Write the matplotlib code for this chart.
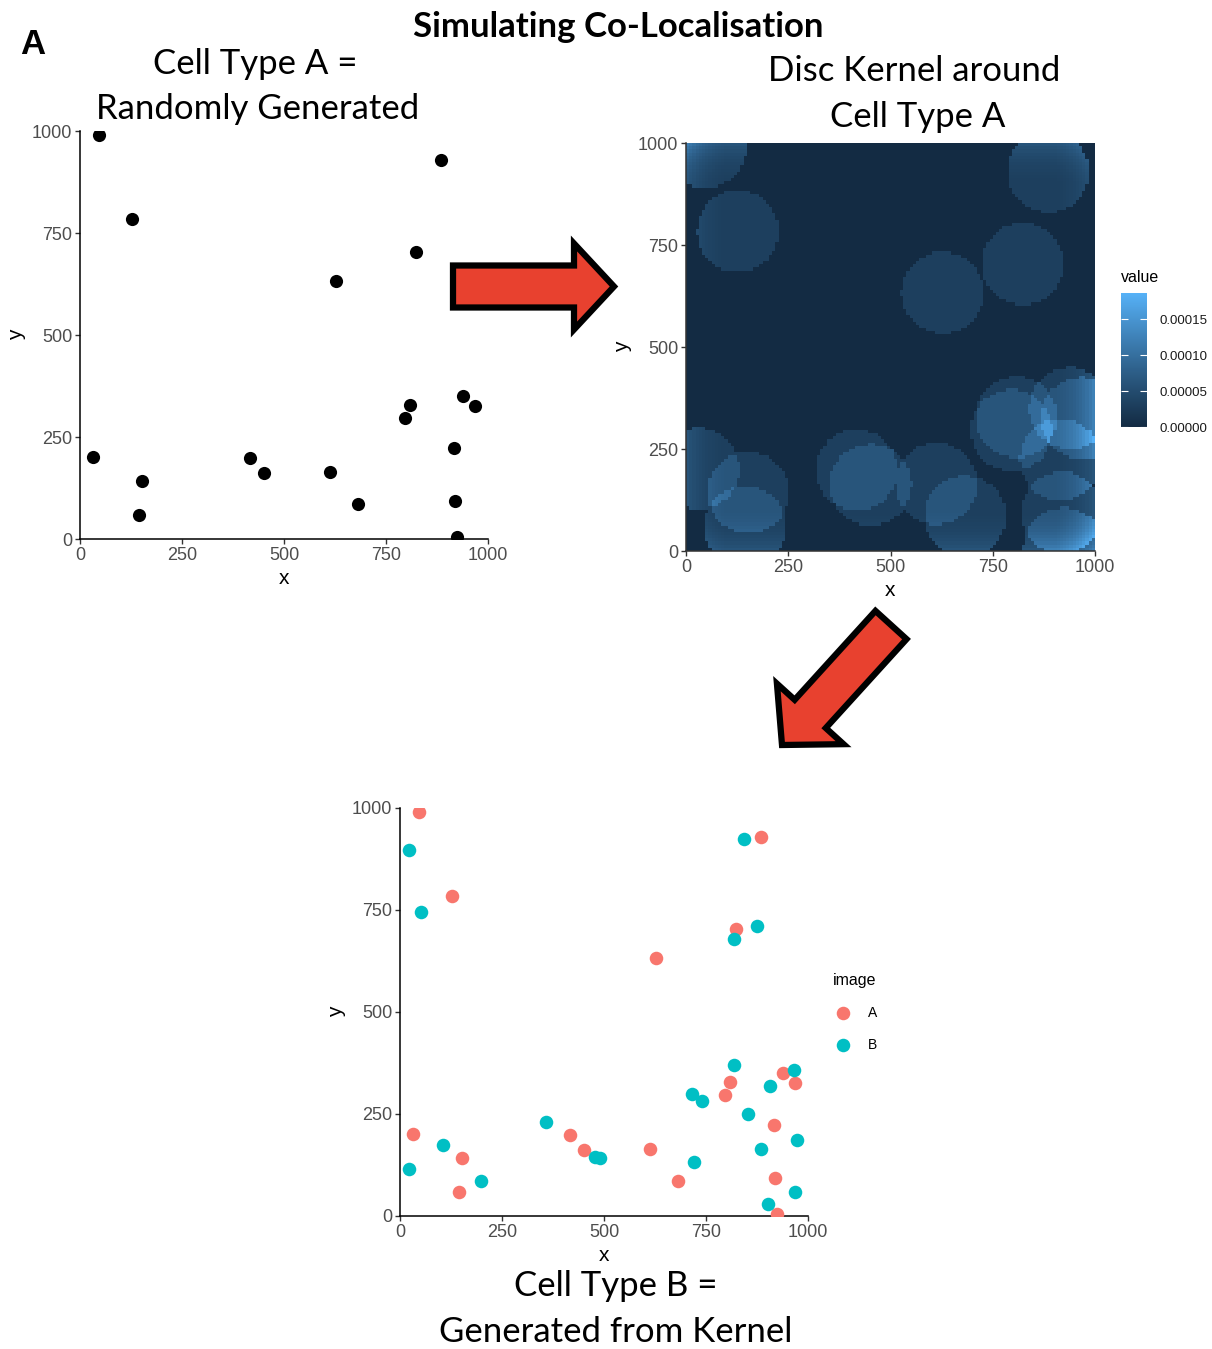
import numpy as np
import matplotlib
matplotlib.use("Agg")
import matplotlib.pyplot as plt
import matplotlib.colors as mcolors
from matplotlib.patches import FancyArrow

# ---- point patterns -------------------------------------------------------
cell_a_x = [47, 127, 886, 823, 627, 808, 796, 939, 967, 916, 919, 924,
            31, 152, 144, 417, 451, 612, 682]
cell_a_y = [989, 784, 930, 704, 633, 328, 296, 350, 326, 224, 94, 6,
            202, 143, 60, 198, 162, 165, 85]

cell_b_x = [21, 51, 843, 876, 819, 819, 965, 906, 716, 739, 852, 359,
            972, 885, 105, 21, 198, 479, 491, 720, 969, 901]
cell_b_y = [898, 745, 923, 712, 678, 369, 358, 318, 298, 281, 251, 231,
            187, 165, 173, 114, 86, 144, 143, 133, 60, 30]

axis_ticks = [0, 250, 500, 750, 1000]
value_ticks = [0.0, 0.00005, 0.00010, 0.00015]
group_labels = ["A", "B"]

DISC_RADIUS = 100.0
GRID_N = 128
WINDOW = 1000.0

# ---- figure ---------------------------------------------------------------
W, H = 1212, 1349
fig = plt.figure(figsize=(W / 100, H / 100), dpi=100)
plt.rcParams["font.family"] = ["Liberation Sans", "DejaVu Sans"]

TICK_GREY = "#4D4D4D"
COL_A = "#F8766D"
COL_B = "#00BFC4"


def px_axes(left, top, right, bottom):
    return fig.add_axes([left / W, 1 - bottom / H, (right - left) / W, (bottom - top) / H])


def style_axes(ax, spine_color="black"):
    ax.set_xlim(0, 1000)
    ax.set_ylim(0, 1000)
    ax.set_xticks(axis_ticks)
    ax.set_yticks(axis_ticks)
    for s in ("top", "right"):
        ax.spines[s].set_visible(False)
    for s in ("left", "bottom"):
        ax.spines[s].set_color(spine_color)
        ax.spines[s].set_linewidth(1.1)
    ax.tick_params(length=3.5, width=1.0, pad=2, labelsize=13,
                   labelcolor=TICK_GREY, color="#333333")
    ax.set_xlabel("x", fontsize=15, labelpad=4)
    ax.set_ylabel("y", fontsize=15, labelpad=4)


# ---- panel 1: cell type A ---------------------------------------------------
ax1 = px_axes(80, 131, 488, 539)
ax1.scatter(cell_a_x, cell_a_y, s=90, color="black", linewidths=0, zorder=3)
style_axes(ax1)

# ---- panel 2: edge-corrected disc kernel around cell type A ----------------
centres = (np.arange(GRID_N) + 0.5) * WINDOW / GRID_N
gx, gy = np.meshgrid(centres, centres)
ax_pts = np.array(cell_a_x, float)
ay_pts = np.array(cell_a_y, float)
d2 = (gx[..., None] - ax_pts) ** 2 + (gy[..., None] - ay_pts) ** 2
count = (d2 <= DISC_RADIUS ** 2).sum(axis=-1)

step = 4.0
off = np.arange(-DISC_RADIUS, DISC_RADIUS + step, step)
ox, oy = np.meshgrid(off, off)
inside_disc = ox ** 2 + oy ** 2 <= DISC_RADIUS ** 2
ox, oy = ox[inside_disc], oy[inside_disc]
cell_area = step * step
area = np.empty_like(gx)
for i in range(GRID_N):
    px = gx[i][:, None] + ox
    py = gy[i][:, None] + oy
    inw = (px >= 0) & (px <= WINDOW) & (py >= 0) & (py <= WINDOW)
    area[i] = inw.sum(axis=1) * cell_area
density = count / area


def hex_to_lab(h):
    rgb = np.array(mcolors.to_rgb(h))
    lin = np.where(rgb <= 0.04045, rgb / 12.92, ((rgb + 0.055) / 1.055) ** 2.4)
    M = np.array([[0.4124564, 0.3575761, 0.1804375],
                  [0.2126729, 0.7151522, 0.0721750],
                  [0.0193339, 0.1191920, 0.9503041]])
    xyz = M @ lin / np.array([0.95047, 1.0, 1.08883])
    f = np.where(xyz > 0.008856, np.cbrt(xyz), 7.787 * xyz + 16 / 116)
    return np.array([116 * f[1] - 16, 500 * (f[0] - f[1]), 200 * (f[1] - f[2])])


def lab_to_rgb(lab):
    L, a, b = lab
    fy = (L + 16) / 116
    f = np.array([fy + a / 500, fy, fy - b / 200])
    xyz = np.where(f ** 3 > 0.008856, f ** 3, (f - 16 / 116) / 7.787)
    xyz = xyz * np.array([0.95047, 1.0, 1.08883])
    Minv = np.array([[3.2404542, -1.5371385, -0.4985314],
                     [-0.9692660, 1.8760108, 0.0415560],
                     [0.0556434, -0.2040259, 1.0572252]])
    lin = Minv @ xyz
    rgb = np.where(lin <= 0.0031308, 12.92 * lin, 1.055 * np.abs(lin) ** (1 / 2.4) - 0.055)
    return np.clip(rgb, 0, 1)


lo, hi = hex_to_lab("#132B43"), hex_to_lab("#56B1F7")
cmap = mcolors.ListedColormap([lab_to_rgb(lo + t * (hi - lo)) for t in np.linspace(0, 1, 256)])

ax2 = px_axes(686, 143, 1095, 551)
im = ax2.imshow(density, origin="lower", extent=(0, 1000, 0, 1000), cmap=cmap,
                interpolation="nearest", aspect="auto",
                vmin=density.min(), vmax=density.max())
style_axes(ax2, spine_color="#333333")

cax = px_axes(1121, 293, 1147, 427)
cb = fig.colorbar(im, cax=cax, ticks=value_ticks)
cb.outline.set_visible(False)
cb.ax.set_yticklabels([f"{v:.5f}" for v in value_ticks])
cax.tick_params(direction="in", color="white", length=5, width=0.8,
                left=True, right=True, labelsize=9.5, pad=9, labelcolor="#1a1a1a")
fig.text(1121 / W, 1 - 277 / H, "value", fontsize=11.5, va="center", ha="left")

# ---- panel 3: cell types A and B ------------------------------------------
ax3 = px_axes(400, 808, 808, 1216)
ax3.scatter(cell_a_x, cell_a_y, s=95, color=COL_A, linewidths=0, zorder=3, label=group_labels[0])
ax3.scatter(cell_b_x, cell_b_y, s=95, color=COL_B, linewidths=0, zorder=3, label=group_labels[1])
style_axes(ax3)
leg = ax3.legend(title="image", loc="upper left",
                 bbox_to_anchor=(833 / W, 1 - 973 / H), bbox_transform=fig.transFigure,
                 frameon=False, borderaxespad=0, borderpad=0, fontsize=10,
                 title_fontsize=11.5, labelspacing=1.3, handletextpad=1.0,
                 markerscale=1.0, alignment="left", handlelength=1.5)

# ---- annotation layer (pixel coordinates) ---------------------------------
ov = fig.add_axes([0, 0, 1, 1])
ov.set_xlim(0, W)
ov.set_ylim(H, 0)
ov.axis("off")

HEAD_FONT = ["Lato", "DejaVu Sans"]
ov.text(618, 27, "Simulating Co-Localisation", fontsize=25, fontweight="bold",
        family=HEAD_FONT, ha="center", va="center")
ov.text(20, 45, "A", fontsize=25, fontweight="bold", ha="left", va="center")
for x, y, s in [(255, 64, "Cell Type A ="), (258, 109, "Randomly Generated"),
                (914, 71, "Disc Kernel around"), (918, 117, "Cell Type A"),
                (616, 1286, "Cell Type B ="), (616, 1332, "Generated from Kernel")]:
    ov.text(x, y, s, fontsize=25, family=HEAD_FONT, ha="center", va="center")

ARROW_RED = "#E8412F"
ov.add_patch(FancyArrow(453, 286.5, 161, 0, width=42, head_width=86, head_length=40,
                        length_includes_head=True, fc=ARROW_RED, ec="black", lw=4.5,
                        joinstyle="miter"))
ov.add_patch(FancyArrow(891, 625, -109, 120, width=42, head_width=90, head_length=42,
                        length_includes_head=True, fc=ARROW_RED, ec="black", lw=4.5,
                        joinstyle="miter"))

fig.savefig("out.png", dpi=100)
